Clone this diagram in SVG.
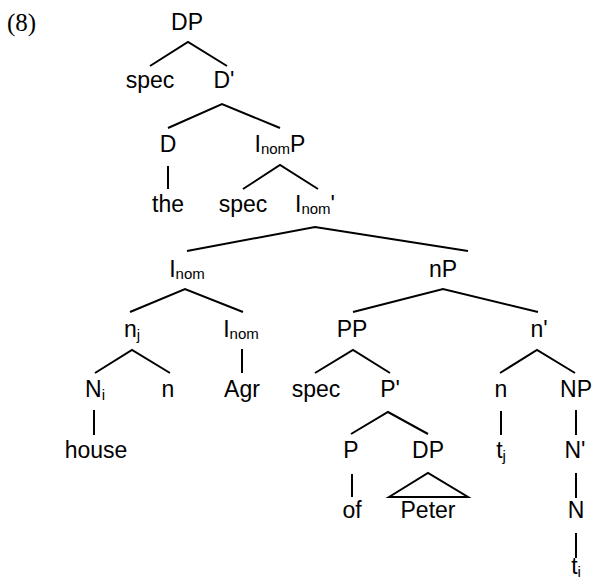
<svg xmlns="http://www.w3.org/2000/svg" width="592" height="582" viewBox="0 0 592 582">
<style>
  .lbl { font-family: "Liberation Sans", Arial, sans-serif; font-size: 23px; fill: #000; text-anchor: middle; }
  .sub { font-size: 15px; }
  .num { font-family: "Liberation Serif", "Times New Roman", serif; font-size: 25px; fill: #000; }
  .edge { stroke: #000; stroke-width: 2; fill: none; stroke-linecap: butt; }
</style>
<rect width="592" height="582" fill="#fff"/>
<text class="num" x="7" y="31">(8)</text>

<g id="connectors">
  <polyline class="edge" points="150,66 188,42 227,66"/>
  <polyline class="edge" points="168,128 222,104 280,128"/>
  <line class="edge" x1="168" y1="166" x2="168" y2="189"/>
  <polyline class="edge" points="243,189 280,165 318,189"/>
  <polyline class="edge" points="187,251 315,227 468,251"/>
  <polyline class="edge" points="130,312 185,289 243,312"/>
  <polyline class="edge" points="353,312 443,289 538,312"/>
  <polyline class="edge" points="95,373 132,350 170,373"/>
  <line class="edge" x1="242" y1="349" x2="242" y2="373"/>
  <polyline class="edge" points="315,373 353,350 390,373"/>
  <polyline class="edge" points="500,373 537,350 575,373"/>
  <line class="edge" x1="94" y1="410" x2="94" y2="435"/>
  <polyline class="edge" points="351,434 388,412 428,434"/>
  <line class="edge" x1="501" y1="411" x2="501" y2="435"/>
  <line class="edge" x1="576" y1="410" x2="576" y2="435"/>
  <line class="edge" x1="352" y1="474" x2="352" y2="497"/>
  <polygon class="edge" points="389,497 428,473 468,497"/>
  <line class="edge" x1="576" y1="473" x2="576" y2="498"/>
  <line class="edge" x1="576" y1="533" x2="576" y2="558"/>
</g>

<g id="n-dp"><text class="lbl" x="187" y="30">DP</text></g>
<g id="n-spec1"><text class="lbl" x="150" y="88">spec</text></g>
<g id="n-dbar"><text class="lbl" x="224" y="88">D'</text></g>
<g id="n-d"><text class="lbl" x="168" y="152">D</text></g>
<g id="n-inomp"><text class="lbl" x="280" y="152">I<tspan class="sub" dy="2">nom</tspan><tspan dy="-2">P</tspan></text></g>
<g id="n-the"><text class="lbl" x="168" y="212">the</text></g>
<g id="n-spec2"><text class="lbl" x="243" y="212">spec</text></g>
<g id="n-inombar"><text class="lbl" x="315" y="212">I<tspan class="sub" dy="2">nom</tspan><tspan dy="-2">'</tspan></text></g>
<g id="n-inom1"><text class="lbl" x="187" y="277">I<tspan class="sub" dy="2">nom</tspan></text></g>
<g id="n-np"><text class="lbl" x="443" y="277">nP</text></g>
<g id="n-nj"><text class="lbl" x="132" y="337">n<tspan class="sub" dy="3">j</tspan></text></g>
<g id="n-inom2"><text class="lbl" x="241" y="337">I<tspan class="sub" dy="2">nom</tspan></text></g>
<g id="n-pp"><text class="lbl" x="352" y="337">PP</text></g>
<g id="n-nbar"><text class="lbl" x="539" y="337">n'</text></g>
<g id="n-ni"><text class="lbl" x="95" y="397">N<tspan class="sub" dy="3">i</tspan></text></g>
<g id="n-n1"><text class="lbl" x="168" y="397">n</text></g>
<g id="n-agr"><text class="lbl" x="242" y="397">Agr</text></g>
<g id="n-spec3"><text class="lbl" x="316" y="397">spec</text></g>
<g id="n-pbar"><text class="lbl" x="390" y="397">P'</text></g>
<g id="n-n2"><text class="lbl" x="501" y="397">n</text></g>
<g id="n-nphr"><text class="lbl" x="576" y="397">NP</text></g>
<g id="n-house"><text class="lbl" x="96" y="458">house</text></g>
<g id="n-p"><text class="lbl" x="351" y="458">P</text></g>
<g id="n-dp2"><text class="lbl" x="428" y="458">DP</text></g>
<g id="n-tj"><text class="lbl" x="501" y="458">t<tspan class="sub" dy="3">j</tspan></text></g>
<g id="n-nbar2"><text class="lbl" x="575" y="458">N'</text></g>
<g id="n-of"><text class="lbl" x="352" y="518">of</text></g>
<g id="n-peter"><text class="lbl" x="428" y="518">Peter</text></g>
<g id="n-n3"><text class="lbl" x="576" y="518">N</text></g>
<g id="n-ti"><text class="lbl" x="576" y="574">t<tspan class="sub" dy="3">i</tspan></text></g>
</svg>
